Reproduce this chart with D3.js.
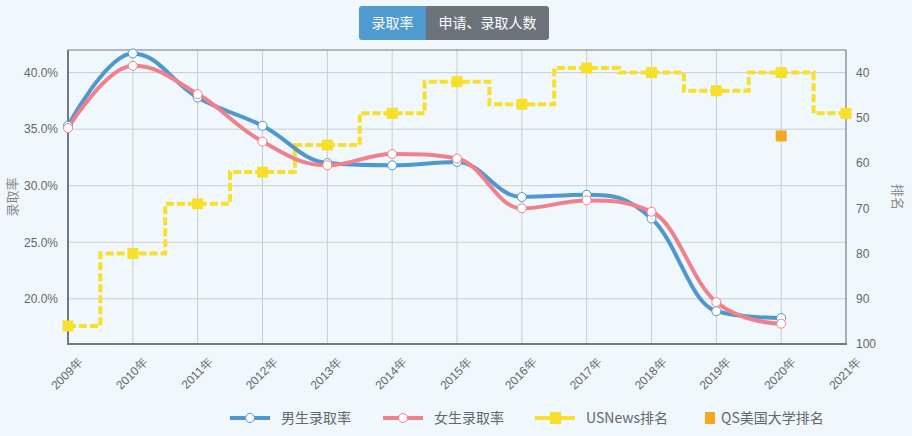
<!DOCTYPE html>
<html><head><meta charset="utf-8">
<script src="https://cdn.jsdelivr.net/npm/d3@7/dist/d3.min.js"></script>
<style>
html,body{margin:0;padding:0;background:#f0f8fe;}
svg{display:block;font-family:"Microsoft YaHei","Noto Sans CJK SC","Noto Sans",sans-serif;}
</style></head><body>
<svg id="c" width="912" height="436"></svg>
<script>
const years = [2009,2010,2011,2012,2013,2014,2015,2016,2017,2018,2019,2020,2021];
const yearLabels = years.map(y => y + "年");
const maleRate = [35.3,41.7,37.8,35.3,32.0,31.8,32.1,29.0,29.2,27.1,18.9,18.3];
const femaleRate = [35.1,40.6,38.1,33.9,31.8,32.8,32.4,28.0,28.7,27.7,19.7,17.8];
const usnewsRank = [96,80,69,62,56,49,42,47,39,40,44,40,49];
const qsYears = [2020];
const qsRank = [54];
const rateTicks = [20,25,30,35,40];
const rankTicks = [40,50,60,70,80,90,100];
const seriesNames = ["男生录取率","女生录取率","USNews排名","QS美国大学排名"];
const buttonLabels = ["录取率","申请、录取人数"];

const colors = {male:"#4f97cf", female:"#f0808a", us:"#f7df2a", qs:"#f5a623"};
const svg = d3.select("#c");
const L=68, R=846, T=50, B=344;

const x = d3.scaleLinear().domain([2009,2021]).range([L,R]);
const yL = d3.scaleLinear().domain([16,42]).range([B,T]);
const yR = d3.scaleLinear().domain([35,100]).range([T,B]);

// Highcharts-like spline curve
function hcSpline(context){
  let pts=[];
  return {
    areaStart(){}, areaEnd(){},
    lineStart(){pts=[];},
    point(px,py){pts.push([+px,+py]);},
    lineEnd(){
      const s=1.5, d=2.5;
      const rc=[];
      context.moveTo(pts[0][0],pts[0][1]);
      for(let i=1;i<pts.length;i++){
        const [X,Y]=pts[i];
        let lcx=X, lcy=Y;
        if(i<pts.length-1){
          const [lx,ly]=pts[i-1],[nx,ny]=pts[i+1];
          lcx=(s*X+lx)/d; lcy=(s*Y+ly)/d;
          let rcx=(s*X+nx)/d, rcy=(s*Y+ny)/d;
          let corr=0;
          if(rcx!==lcx){corr=((rcy-lcy)*(rcx-X))/(rcx-lcx)+Y-rcy;}
          lcy+=corr; rcy+=corr;
          if(lcy>ly&&lcy>Y){lcy=Math.max(ly,Y);rcy=2*Y-lcy;}
          else if(lcy<ly&&lcy<Y){lcy=Math.min(ly,Y);rcy=2*Y-lcy;}
          if(rcy>ny&&rcy>Y){rcy=Math.max(ny,Y);lcy=2*Y-rcy;}
          else if(rcy<ny&&rcy<Y){rcy=Math.min(ny,Y);lcy=2*Y-rcy;}
          rc[i]=[rcx,rcy];
        }
        const prev=rc[i-1]||pts[i-1];
        context.bezierCurveTo(prev[0],prev[1],lcx,lcy,X,Y);
      }
    }
  };
}

// buttons
const bx=359, by=6, bh=34;
const bw=[67,123];
svg.append("path").attr("d",`M${bx+3},${by}H${bx+bw[0]}V${by+bh}H${bx+3}Q${bx},${by+bh} ${bx},${by+bh-3}V${by+3}Q${bx},${by} ${bx+3},${by}Z`).attr("fill","#4f9bd0");
const b2=bx+bw[0];
svg.append("path").attr("d",`M${b2},${by}H${b2+bw[1]-3}Q${b2+bw[1]},${by} ${b2+bw[1]},${by+3}V${by+bh-3}Q${b2+bw[1]},${by+bh} ${b2+bw[1]-3},${by+bh}H${b2}Z`).attr("fill","#6d737b");
svg.append("text").attr("x",bx+bw[0]/2).attr("y",by+bh/2+5).attr("text-anchor","middle").attr("fill","#fff").attr("font-size",14).text(buttonLabels[0]);
svg.append("text").attr("x",b2+bw[1]/2).attr("y",by+bh/2+5).attr("text-anchor","middle").attr("fill","#fff").attr("font-size",14).text(buttonLabels[1]);

// grid
const g=svg.append("g");
g.selectAll(".vg").data(years).join("line").attr("x1",d=>x(d)).attr("x2",d=>x(d)).attr("y1",T).attr("y2",B).attr("stroke","#c8ccd2").attr("stroke-width",1);
g.selectAll(".hg").data(rateTicks).join("line").attr("x1",L).attr("x2",R).attr("y1",d=>yL(d)).attr("y2",d=>yL(d)).attr("stroke","#c8ccd2").attr("stroke-width",1);

// border
svg.append("rect").attr("x",L).attr("y",T).attr("width",R-L).attr("height",B-T).attr("fill","none").attr("stroke","#707a86").attr("stroke-width",1);
svg.append("line").attr("x1",L).attr("x2",L).attr("y1",T).attr("y2",B+1).attr("stroke","#707a86").attr("stroke-width",2);
svg.append("line").attr("x1",L-1).attr("x2",R+1).attr("y1",B).attr("y2",B).attr("stroke","#707a86").attr("stroke-width",2);

// axes labels
const leftAxis = d3.axisLeft(yL).tickValues(rateTicks).tickFormat(d=>d.toFixed(1)+"%").tickSize(0).tickPadding(10);
const la=svg.append("g").attr("transform",`translate(${L},0)`).call(leftAxis);
la.select(".domain").remove();
la.selectAll("text").attr("fill","#666").attr("font-size",12).attr("font-family","inherit");
const rightAxis = d3.axisRight(yR).tickValues(rankTicks).tickSize(0).tickPadding(10);
const ra=svg.append("g").attr("transform",`translate(${R},0)`).call(rightAxis);
ra.select(".domain").remove();
ra.selectAll("text").attr("fill","#666").attr("font-size",12).attr("font-family","inherit");
const bottomAxis = d3.axisBottom(x).tickValues(years).tickFormat((d,i)=>yearLabels[i]).tickSize(0);
const ba=svg.append("g").attr("transform",`translate(0,${B})`).call(bottomAxis);
ba.select(".domain").remove();
ba.selectAll("text").attr("fill","#666").attr("font-size",12).attr("font-family","inherit")
  .attr("text-anchor","end").attr("dy",null).attr("y",0)
  .attr("transform","translate(15,19) rotate(-45)");

svg.append("text").attr("transform",`translate(17,${(T+B)/2}) rotate(-90)`).attr("text-anchor","middle").attr("fill","#888").attr("font-size",13).text("录取率");
svg.append("text").attr("transform",`translate(893,${(T+B)/2}) rotate(90)`).attr("text-anchor","middle").attr("fill","#888").attr("font-size",13).text("排名");

// USNews step
const usData = years.map((yr,i)=>[yr,usnewsRank[i]]);
svg.append("path").datum(usData).attr("fill","none").attr("stroke",colors.us).attr("stroke-width",4).attr("stroke-dasharray","8,3")
  .attr("d",d3.line().x(d=>x(d[0])).y(d=>yR(d[1])).curve(d3.curveStep));
svg.selectAll(".usm").data(usData).join("rect").attr("x",d=>x(d[0])-5.5).attr("y",d=>yR(d[1])-5.5).attr("width",11).attr("height",11).attr("fill",colors.us);

// rates
const yrs12 = years.slice(0,12);
function drawRate(vals,color){
  const data=yrs12.map((yr,i)=>[yr,vals[i]]);
  svg.append("path").datum(data).attr("fill","none").attr("stroke",color).attr("stroke-width",4).attr("stroke-linejoin","round")
    .attr("d",d3.line().x(d=>x(d[0])).y(d=>yL(d[1])).curve(hcSpline));
  return data;
}
const md=drawRate(maleRate,colors.male);
const fd=drawRate(femaleRate,colors.female);
svg.selectAll(".mm").data(md).join("circle").attr("cx",d=>x(d[0])).attr("cy",d=>yL(d[1])).attr("r",4.5).attr("fill","#fff").attr("stroke",colors.male).attr("stroke-width",1);
svg.selectAll(".fm").data(fd).join("circle").attr("cx",d=>x(d[0])).attr("cy",d=>yL(d[1])).attr("r",4.5).attr("fill","#fff").attr("stroke",colors.female).attr("stroke-width",1);

// QS
svg.selectAll(".qs").data(qsYears.map((yr,i)=>[yr,qsRank[i]])).join("rect").attr("x",d=>x(d[0])-5.5).attr("y",d=>yR(d[1])-5.5).attr("width",11).attr("height",11).attr("fill",colors.qs);

// legend
const ly=418;
const lg=svg.append("g");
const items=[{x:230,c:colors.male,t:"circle"},{x:383,c:colors.female,t:"circle"},{x:535,c:colors.us,t:"square"},{x:705,c:colors.qs,t:"qs"}];
items.forEach((it,i)=>{
  if(it.t==="qs"){
    lg.append("rect").attr("x",it.x).attr("y",ly-6).attr("width",10).attr("height",12).attr("fill",it.c);
    lg.append("text").attr("x",it.x+16).attr("y",ly+5).attr("fill","#666").attr("font-size",14).text(seriesNames[i]);
  } else {
    lg.append("line").attr("x1",it.x).attr("x2",it.x+40).attr("y1",ly).attr("y2",ly).attr("stroke",it.c).attr("stroke-width",4);
    if(it.t==="circle") lg.append("circle").attr("cx",it.x+20).attr("cy",ly).attr("r",4.5).attr("fill","#fff").attr("stroke",it.c);
    else lg.append("rect").attr("x",it.x+15).attr("y",ly-6).attr("width",11).attr("height",12).attr("fill",it.c);
    lg.append("text").attr("x",it.x+51).attr("y",ly+5).attr("fill","#666").attr("font-size",14).text(seriesNames[i]);
  }
});
</script></body></html>
